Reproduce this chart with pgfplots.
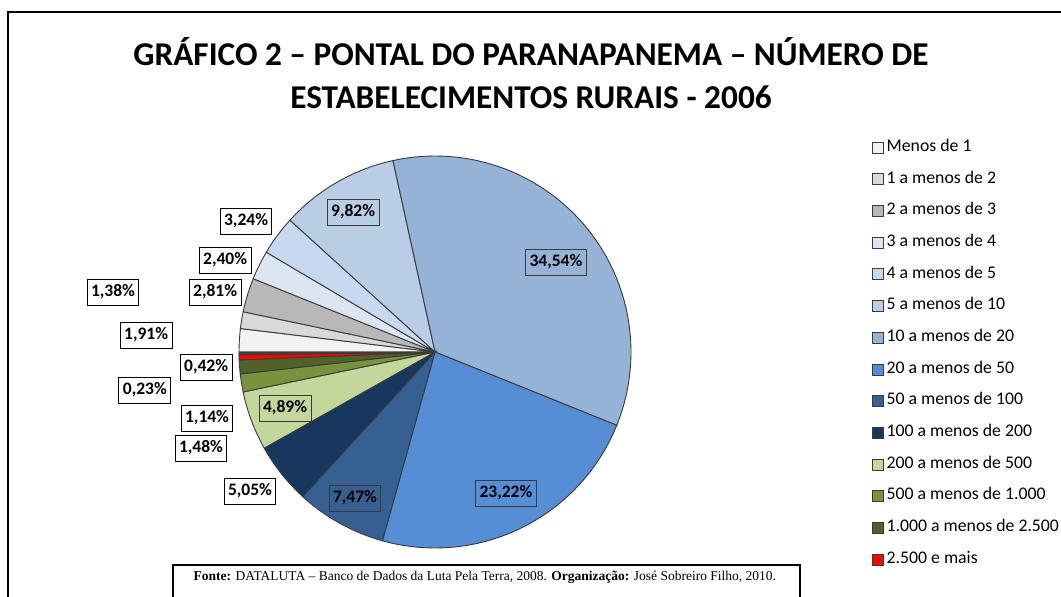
\documentclass[border=0pt]{standalone}
\usepackage{fontspec}
\setmainfont{Carlito}
\newfontfamily\timesfont{Liberation Serif}
\usepackage{pgfplots}
\pgfplotsset{compat=1.18}

\definecolor{edge}{HTML}{3A3A3A}
\definecolor{cA}{HTML}{F2F2F2}
\definecolor{cB}{HTML}{D9D9D9}
\definecolor{cC}{HTML}{B8B8B8}
\definecolor{cD}{HTML}{DCE6F2}
\definecolor{cE}{HTML}{C6D9F1}
\definecolor{cF}{HTML}{B9CDE5}
\definecolor{cG}{HTML}{95B3D7}
\definecolor{cH}{HTML}{558ED5}
\definecolor{cI}{HTML}{376092}
\definecolor{cJ}{HTML}{17375E}
\definecolor{cK}{HTML}{C3D69B}
\definecolor{cL}{HTML}{77933C}
\definecolor{cM}{HTML}{4F6228}
\definecolor{cN}{HTML}{FF0000}
\definecolor{cO}{HTML}{404040}

% one pie slice: percentage, colour (clockwise from 9 o'clock)
\newcommand\slice[2]{%
  \pgfmathsetmacro\tmpEnd{\aStart-3.6*#1}%
  \xdef\aEnd{\tmpEnd}%
  \edef\doslice{\noexpand\addplot[forget plot, draw=edge, line width=0.9bp, fill=#2,
     domain=\aEnd:\aStart, samples=60, variable=\noexpand\t]
     ({cos(\noexpand\t)},{sin(\noexpand\t)}) -- (axis cs:0,0) -- cycle;}%
  \doslice
  \xdef\aStart{\aEnd}%
}
\tikzset{lbl/.style={draw=black, line width=1bp, fill=white, font=\fontsize{17.5bp}{20bp}\selectfont\bfseries,
  inner xsep=4bp, inner ysep=0pt, text height=11.5bp, text depth=3.5bp, minimum height=26bp},
  lblin/.style={lbl, fill=none, draw=edge}}

\begin{document}
\begin{tikzpicture}[x=1bp,y=1bp]
\useasboundingbox (0,0) rectangle (1061,597);
\draw[line width=1.3bp] (8,-30) -- (8,585) -- (1100,585);

\node[anchor=base, font=\fontsize{33.3bp}{40bp}\selectfont\bfseries] at (531,531) {GRÁFICO 2 – PONTAL DO PARANAPANEMA – NÚMERO DE};
\node[anchor=base, font=\fontsize{33.3bp}{40bp}\selectfont\bfseries] at (531,488) {ESTABELECIMENTOS RURAIS - 2006};

\xdef\aStart{180}
\begin{axis}[at={(239bp,49bp)}, anchor=south west, width=392bp, height=392bp,
  scale only axis, xmin=-1, xmax=1, ymin=-1, ymax=1, hide axis, clip=false,
  legend image code/.code={\draw[#1] (0bp,-5.5bp) rectangle (11bp,5.5bp);},
  legend style={draw=none, fill=none, inner sep=0pt, at={(1.615,1.04)}, anchor=north west,
    font=\fontsize{17.75bp}{20bp}\selectfont, row sep=17.67bp,
    nodes={inner sep=0pt, text height=11bp, text depth=3bp, anchor=west},
    /tikz/every odd column/.style={column sep=3bp}},
  legend cell align=left]
\slice{1.91}{cA}
\slice{1.38}{cB}
\slice{2.81}{cC}
\slice{2.40}{cD}
\slice{3.24}{cE}
\slice{9.82}{cF}
\slice{34.54}{cG}
\slice{23.22}{cH}
\slice{7.47}{cI}
\slice{5.05}{cJ}
\slice{4.89}{cK}
\slice{1.48}{cL}
\slice{1.14}{cM}
\slice{0.42}{cN}
\slice{0.23}{cO}

\addlegendimage{fill=cA, draw=edge}\addlegendentry{Menos de 1}
\addlegendimage{fill=cB, draw=edge}\addlegendentry{1 a menos de 2}
\addlegendimage{fill=cC, draw=edge}\addlegendentry{2 a menos de 3}
\addlegendimage{fill=cD, draw=edge}\addlegendentry{3 a menos de 4}
\addlegendimage{fill=cE, draw=edge}\addlegendentry{4 a menos de 5}
\addlegendimage{fill=cF, draw=edge}\addlegendentry{5 a menos de 10}
\addlegendimage{fill=cG, draw=edge}\addlegendentry{10 a menos de 20}
\addlegendimage{fill=cH, draw=edge}\addlegendentry{20 a menos de 50}
\addlegendimage{fill=cI, draw=edge}\addlegendentry{50 a menos de 100}
\addlegendimage{fill=cJ, draw=edge}\addlegendentry{100 a menos de 200}
\addlegendimage{fill=cK, draw=edge}\addlegendentry{200 a menos de 500}
\addlegendimage{fill=cL, draw=edge}\addlegendentry{500 a menos de 1.000}
\addlegendimage{fill=cM, draw=edge}\addlegendentry{1.000 a menos de 2.500}
\addlegendimage{fill=cN, draw=edge}\addlegendentry{2.500 e mais}

\node[lblin] at (axis cs:0.617,0.459) {34,54\%};
\node[lblin] at (axis cs:0.362,-0.724) {23,22\%};
\node[lblin] at (axis cs:-0.408,-0.750) {7,47\%};
\node[lbl] at (axis cs:-0.944,-0.714) {5,05\%};
\node[lblin] at (axis cs:-0.765,-0.286) {4,89\%};
\node[lbl] at (axis cs:-1.194,-0.490) {1,48\%};
\node[lbl] at (axis cs:-1.163,-0.337) {1,14\%};
\node[lbl] at (axis cs:-1.168,-0.077) {0,42\%};
\node[lbl] at (axis cs:-1.480,-0.194) {0,23\%};
\node[lbl] at (axis cs:-1.474,0.082) {1,91\%};
\node[lbl] at (axis cs:-1.643,0.306) {1,38\%};
\node[lbl] at (axis cs:-1.122,0.301) {2,81\%};
\node[lbl] at (axis cs:-1.071,0.469) {2,40\%};
\node[lbl] at (axis cs:-0.964,0.668) {3,24\%};
\node[lblin] at (axis cs:-0.418,0.714) {9,82\%};
\end{axis}

\draw[line width=1.3bp, fill=white] (173,32) -- (173,-20) -- (800,-20) -- (800,32) -- cycle;
\node[anchor=base west, font=\timesfont\fontsize{13.5bp}{16bp}\selectfont] at (190,16)
  {\textbf{Fonte:} DATALUTA – Banco de Dados da Luta Pela Terra, 2008. \textbf{Organização:} José Sobreiro Filho, 2010.};
\end{tikzpicture}
\end{document}
